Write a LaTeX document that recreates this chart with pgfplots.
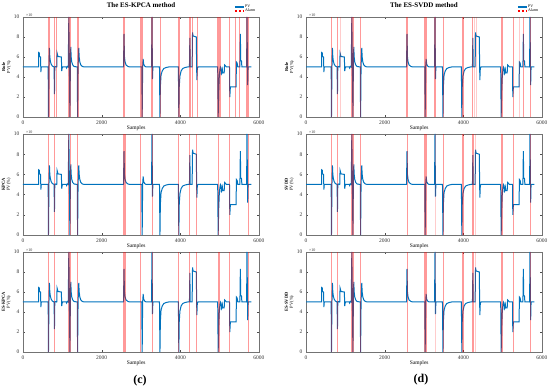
\documentclass[border=0pt]{standalone}
\usepackage{pgfplots}
\usepackage{pgfplotstable}
\pgfplotsset{compat=1.18}
\usepackage{fontspec}
\setmainfont{Liberation Serif}
\definecolor{pvblue}{RGB}{0,114,189}

\pgfplotstableread{
x y
0 5.0
395 5.0
398 6.45
415 6.4
420 6.05
445 6.0
455 4.5
465 5.0
640 5.0
648 0.0
660 5.0
672 6.9
682 6.0
695 5.6
715 5.3
745 5.1
790 5.0
800 2.3
808 4.9
818 5.05
858 5.0
866 6.4
880 6.2
890 6.05
975 6.0
985 4.6
995 4.9
1010 5.0
1100 5.0
1110 4.9
1125 5.05
1150 5.0
1165 10
1180 5.0
1192 0.0
1205 5.0
1215 7.0
1225 6.0
1240 5.5
1265 5.2
1300 5.05
1380 5.0
1388 0.0
1400 5.0
1418 6.9
1428 6.0
1445 5.5
1470 5.2
1510 5.05
1560 5.0
2555 5.0
2568 8.3
2580 6.0
2595 5.5
2620 5.2
2670 5.05
2720 5.0
3020 5.0
3030 0.0
3042 5.0
3055 5.8
3068 5.3
3090 5.1
3130 5.0
3268 5.0
3280 10
3292 3.8
3302 5.0
3470 5.0
3482 0.0
3492 3.0
3510 4.2
3540 4.6
3580 4.85
3640 4.95
3700 5.0
3950 5.0
3962 0.0
3972 3.0
3990 4.1
4020 4.6
4060 4.85
4120 4.95
4180 5.0
4232 5.0
4242 7.9
4252 5.0
4300 5.0
4310 8.45
4325 8.1
4405 8.0
4420 3.7
4432 4.9
4450 5.0
4950 5.0
4962 0.0
4975 2.5
4990 4.0
5005 4.7
5020 5.0
5035 4.9
5045 4.3
5060 4.4
5070 4.7
5080 4.4
5115 4.4
5125 5.2
5150 5.1
5170 5.0
5250 5.0
5258 2.0
5272 3.0
5418 3.0
5425 5.5
5445 5.4
5460 5.0
5515 5.0
5526 8.3
5536 5.6
5555 5.6
5565 5.0
5685 5.0
5695 10
5712 3.2
5722 5.0
5805 5.0
}\pvdata

\pgfplotsset{
 panel/.style={
  scale only axis, width=236pt, height=100pt,
  xmin=0, xmax=6000, ymin=0, ymax=10,
  xtick={0,2000,4000,6000}, ytick={0,2,4,6,8,10},
  tick align=inside, tick pos=both, major tick length=2pt,
  axis line style={black!55, line width=0.4pt},
  every tick/.style={black!70, line width=0.3pt},
  tick label style={font=\fontsize{5.5}{5.5}\selectfont, text=black!80},
  /pgf/number format/assume math mode=true,
  /pgf/number format/1000 sep={},
  scaled ticks=false, clip=false,
  xlabel=Samples,
  xlabel style={font=\fontsize{5.5}{6}\selectfont, at={(axis description cs:0.48,-0.11)}, anchor=center},
  ylabel style={font=\fontsize{4.5}{5}\selectfont, align=center, at={(axis description cs:-0.07,0.5)}, anchor=center},
  legend style={at={(axis description cs:0.99,1.135)}, anchor=north east, draw=none, fill=none,
    font=\fontsize{4}{4.5}\selectfont, row sep=-1.2pt, inner sep=0.5pt, nodes={inner sep=0.6pt}},
  legend cell align=left,
 },
 pv/.style={draw=pvblue, line width=1pt, mark=none},
 al/.style={ycomb, draw=red, opacity=0.4, line width=1pt, mark=none, forget plot},
 alf/.style={ycomb, draw=red, opacity=0.2, line width=1pt, mark=none, forget plot},
}
\newcommand{\xten}{\node[anchor=south west, font=\fontsize{4}{4}\selectfont, inner sep=0.5pt, text=black!80] at (rel axis cs:0.01,1) {×10};}
\newcommand{\ttl}[1]{\node[font=\bfseries\fontsize{7}{7}\selectfont, inner sep=0pt, anchor=center] at (rel axis cs:0.5,1.115) {#1};}

\begin{document}
\begin{tikzpicture}
\useasboundingbox (0,0) rectangle (550pt,389pt);

% ---------- top left
\begin{axis}[panel, at={(23pt,272pt)}, anchor=south west, ylabel={\textbf{Rule}\\PV(\%)}]
\addplot[pv, legend image code/.code={\draw[pvblue, line width=1.3pt] (0pt,0pt) -- (9pt,0pt);}] table {\pvdata}; \addlegendentry{PV}
\addplot[ycomb, draw=red, opacity=0.4, line width=1pt, mark=none,
  legend image code/.code={\draw[red, opacity=1, line width=1.3pt, dash pattern=on 2.5pt off 1.5pt] (0pt,0pt) -- (9pt,0pt);}]
 coordinates {(645,10)(655,10)(665,10)(676,10)(800,10)(812,10)(864,10)};
\addlegendentry{Alarm}
\addplot[al] coordinates {(1152,10)(1162,10)(1172,10)(1182,10)(1192,10)(1202,10)(1212,10)(1392,10)(1405,10)(1418,10)
 (2552,10)(2565,10)(2578,10)(2590,10)(2980,10)(2992,10)(3004,10)(3016,10)(3028,10)(3040,10)
 (3258,10)(3272,10)(3286,10)(3295,10)(3490,10)(3950,10)(3962,10)(3975,10)(3988,10)(4230,10)(4245,10)(4260,10)(4304,10)(4435,10)
 (4952,10)(4965,10)(4978,10)(4991,10)(5004,10)(5018,10)(5260,10)(5415,10)(5516,10)(5690,10)(5705,10)(5722,10)};
\xten
\ttl{The ES-KPCA method}
\end{axis}

% ---------- middle left
\begin{axis}[panel, at={(23pt,154pt)}, anchor=south west, height=101pt, ylabel={\textbf{KPCA}\\PV(\%)}]
\addplot[pv] table {\pvdata};
\addplot[al] coordinates {(644,10)(805,10)(1165,10)(1205,10)(1385,10)
 (2552,10)(2562,10)(2572,10)(2582,10)(2594,10)(2995,10)(3288,10)(3950,10)(4245,10)(4420,10)(4962,10)(5262,10)(5728,10)};
\xten
\end{axis}

% ---------- bottom left
\begin{axis}[panel, at={(23pt,37pt)}, anchor=south west, ylabel={\textbf{ES-KPCA}\\PV(\%)}]
\addplot[pv] table {\pvdata};
\addplot[al] coordinates {(644,10)(805,10)(1165,10)(1180,10)(1205,10)(1385,10)
 (2552,10)(2562,10)(2572,10)(2582,10)(2594,10)(2995,10)(3288,10)(3950,10)(4245,10)(4420,10)(4960,10)(4972,10)(4985,10)(5262,10)(5728,10)};
\xten
\end{axis}

% ---------- top right
\begin{axis}[panel, at={(306pt,272pt)}, anchor=south west, ylabel={\textbf{Rule}\\PV(\%)}]
\addplot[pv, legend image code/.code={\draw[pvblue, line width=1.3pt] (0pt,0pt) -- (9pt,0pt);}] table {\pvdata}; \addlegendentry{PV}
\addplot[ycomb, draw=red, opacity=0.4, line width=1pt, mark=none,
  legend image code/.code={\draw[red, opacity=1, line width=1.3pt, dash pattern=on 2.5pt off 1.5pt] (0pt,0pt) -- (9pt,0pt);}]
 coordinates {(648,10)(658,10)(796,10)};
\addlegendentry{Alarm}
\addplot[al] coordinates {(1158,10)(1168,10)(1178,10)(1188,10)(1198,10)(1208,10)(1398,10)
 (2559,10)(2568,10)(2576,10)(3025,10)(3035,10)(3045,10)(3059,10)(3279,10)(3292,10)(3305,10)(3490,10)
 (3974,10)(3986,10)(3999,10)(4228,10)(4237,10)(4245,10)(4974,10)(4985,10)(4996,10)(5008,10)(5270,10)(5533,10)(5720,10)};
\addplot[alf] coordinates {(873,10)(4296,10)(4347,10)(5440,10)};
\xten
\ttl{The ES-SVDD method}
\end{axis}

% ---------- middle right
\begin{axis}[panel, at={(306pt,154pt)}, anchor=south west, height=101pt, ylabel={\textbf{SVDD}\\PV(\%)}]
\addplot[pv] table {\pvdata};
\addplot[al] coordinates {(645,10)(660,10)(796,10)(1161,10)(1175,10)(1190,10)(1203,10)(1398,10)(2568,10)
 (3017,10)(3031,10)(3045,10)(3059,10)(3490,10)(3974,10)(3986,10)(3999,10)(4228,10)(4241,10)(4254,10)
 (4974,10)(4985,10)(4996,10)(5008,10)(5270,10)(5720,10)};
\addplot[alf] coordinates {(3288,10)(4313,10)};
\xten
\end{axis}

% ---------- bottom right
\begin{axis}[panel, at={(306pt,37pt)}, anchor=south west, ylabel={\textbf{ES-SVDD}\\PV(\%)}]
\addplot[pv] table {\pvdata};
\addplot[al] coordinates {(645,10)(660,10)(796,10)(1161,10)(1175,10)(1190,10)(1203,10)(1398,10)(2568,10)
 (3017,10)(3031,10)(3045,10)(3059,10)(3490,10)(3974,10)(3986,10)(3999,10)(4228,10)(4241,10)(4254,10)
 (4974,10)(4985,10)(4996,10)(5008,10)(5270,10)(5720,10)};
\addplot[alf] coordinates {(3288,10)(4313,10)};
\xten
\end{axis}

\node[font=\bfseries\fontsize{12}{12}\selectfont] at (140pt,8pt) {(c)};
\node[font=\bfseries\fontsize{12}{12}\selectfont] at (421pt,9pt) {(d)};
\end{tikzpicture}
\end{document}
